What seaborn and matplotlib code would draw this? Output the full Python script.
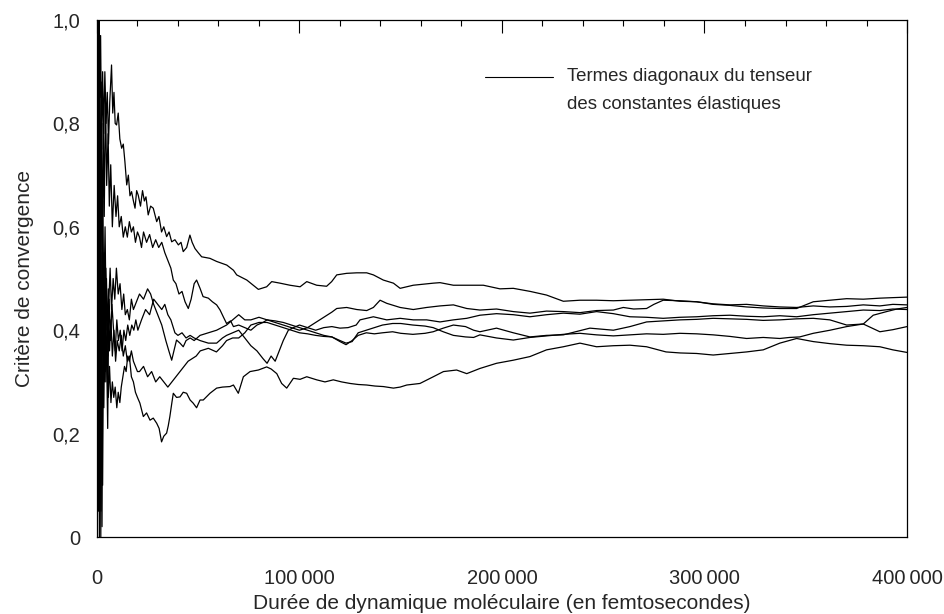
import numpy as np
import pandas as pd
import matplotlib
matplotlib.use("Agg")
import matplotlib.pyplot as plt
from matplotlib.ticker import FuncFormatter, MultipleLocator
import seaborn as sns

# Duree (milliers de fs) et critere de convergence, 6 termes diagonaux
t_a = [0.2, 0.6, 1.0, 1.4, 1.8, 2.3, 2.8, 3.3, 3.9, 4.5, 5.1, 5.7, 6.3, 7.2, 7.8, 8.4, 9.0, 9.7, 10.5, 11.3,
       12.2, 13.0, 13.8, 14.7, 15.5, 16.3, 17.1, 18.0, 18.8, 19.6, 20.4, 21.5, 22.5, 23.4, 24.2, 25.3, 26.5, 27.8,
       29.5, 30.6, 31.9, 33.0, 34.4, 35.6, 36.9, 38.5, 40.2, 41.5, 42.6, 44.3, 45.9, 47.0, 48.4, 50.0, 51.7, 55.8,
       59.1, 64.1, 67.4, 69.0, 74.0, 79.7, 83.8, 86.3, 90.4, 95.3, 100.3, 103.6, 108.5, 113.4, 115.9, 118.4, 123.3,
       128.3, 133.2, 136.5, 141.4, 146.4, 149.7, 156.2, 166.1, 169.4, 176.0, 182.6, 190.8, 199.0, 205.6, 214.0,
       222.0, 230.3, 238.5, 246.7, 255.0, 263.2, 271.4, 279.6, 287.9, 296.1, 304.3, 312.6, 320.8, 329.0, 337.2,
       345.5, 353.7, 361.9, 370.2, 378.4, 386.6, 393.0, 400.0]
crit_a = [1.0, 0.70, 1.0, 0.85, 0.97, 0.75, 0.90, 0.78, 0.90, 0.80, 0.86, 0.76, 0.84, 0.913, 0.82, 0.86, 0.80,
          0.797, 0.82, 0.77, 0.752, 0.76, 0.726, 0.681, 0.70, 0.66, 0.668, 0.65, 0.636, 0.67, 0.661, 0.64, 0.67,
          0.65, 0.658, 0.623, 0.64, 0.636, 0.61, 0.62, 0.59, 0.60, 0.581, 0.59, 0.571, 0.575, 0.565, 0.57, 0.552,
          0.56, 0.584, 0.57, 0.558, 0.55, 0.542, 0.539, 0.533, 0.526, 0.516, 0.507, 0.497, 0.479, 0.484, 0.494,
          0.491, 0.487, 0.484, 0.494, 0.487, 0.485, 0.494, 0.507, 0.510, 0.511, 0.511, 0.507, 0.497, 0.491, 0.481,
          0.487, 0.491, 0.492, 0.487, 0.487, 0.487, 0.480, 0.481, 0.475, 0.468, 0.456, 0.458, 0.458, 0.457, 0.458,
          0.459, 0.460, 0.456, 0.455, 0.450, 0.448, 0.445, 0.443, 0.442, 0.442, 0.455, 0.458, 0.461, 0.460, 0.462,
          0.463, 0.464]

t_b = [0.2, 0.5, 0.9, 1.3, 1.7, 2.1, 2.6, 3.1, 3.6, 4.2, 4.8, 5.5, 6.1, 6.8, 7.6, 8.5, 9.4, 10.2, 11.0, 12.0,
       13, 14, 15, 16, 17, 18, 19, 20, 21, 22, 23, 24.5, 26, 27.5, 29, 30.5, 32, 33.5, 35, 36.5,
       37.7, 39, 40.5, 42, 43.5, 45.1, 46.5, 48, 49.2, 50.9, 52.4, 55, 57, 59.1, 60.8, 62.5, 64, 66, 67.4, 70,
       73, 76, 79, 82, 84, 88, 92, 96, 100, 104, 108, 112, 116, 120, 123, 126, 129, 133, 137, 141,
       146, 150, 156, 162, 166, 171, 176, 182, 186, 189.1, 197.3, 205.6, 213.8, 222.0, 230.3, 243.4, 255.0,
       263.2, 271.4, 279.6, 287.9, 296.1, 304.3, 312.6, 320.8, 329.0, 337.2, 345.5, 353.7, 361.9, 370.2, 378.4,
       386.6, 393.0, 400.0]
crit_b = [0.0, 0.90, 0.20, 0.95, 0.40, 0.88, 0.50, 0.80, 0.62, 0.86, 0.68, 0.78, 0.64, 0.72, 0.60, 0.68, 0.62,
          0.66, 0.60, 0.62, 0.58, 0.60, 0.58, 0.61, 0.59, 0.60, 0.57, 0.59, 0.58, 0.56, 0.59, 0.57, 0.585, 0.56,
          0.575, 0.56, 0.57, 0.55, 0.535, 0.52, 0.497, 0.49, 0.47, 0.475, 0.455, 0.442, 0.46, 0.49, 0.497, 0.481,
          0.465, 0.462, 0.455, 0.449, 0.439, 0.425, 0.413, 0.418, 0.407, 0.41, 0.405, 0.40, 0.41, 0.415, 0.42,
          0.418, 0.415, 0.41, 0.405, 0.40, 0.395, 0.39, 0.387, 0.378, 0.372, 0.38, 0.39, 0.395, 0.393, 0.395,
          0.397, 0.394, 0.392, 0.394, 0.397, 0.404, 0.410, 0.407, 0.400, 0.397, 0.404, 0.395, 0.387, 0.390, 0.391,
          0.404, 0.400, 0.407, 0.416, 0.418, 0.420, 0.421, 0.423, 0.422, 0.421, 0.419, 0.420, 0.422, 0.423, 0.420,
          0.410, 0.412, 0.397, 0.401, 0.407]

t_c = [0.3, 0.7, 1.1, 1.5, 1.9, 2.4, 2.9, 3.4, 4.0, 4.6, 5.3, 5.8, 6.5, 7.2, 8.0, 8.8, 9.6, 10.5, 11.4, 12.3,
       13.2, 14.0, 15.0, 16.0, 17.0, 18.0, 19.0, 20.0, 21.0, 23.0, 25.0, 26.5, 28.0, 30.0, 32.0, 34.0, 35.5, 36.9,
       38.0, 39.3, 41.0, 42.6, 44.0, 46.0, 48.0, 50.9, 55.0, 59.1, 64.0, 67.0, 70, 73, 76, 80, 84, 88, 92, 96,
       100, 104, 108, 112, 116, 118.4, 123.3, 128.3, 133.2, 136.5, 139.8, 143.1, 149.7, 156.2, 162.8, 169.4,
       176.0, 182.6, 189.1, 197.3, 205.6, 213.8, 222.0, 230.3, 238.5, 246.7, 255.0, 259.9, 265.0, 271.4, 275.0,
       279.6, 287.9, 296.1, 304.3, 312.6, 320.8, 329.0, 337.2, 345.5, 353.7, 361.9, 370.2, 378.4, 386.6, 393.0,
       400.0]
crit_c = [0.5, 0.05, 0.6, 0.1, 0.55, 0.3, 0.65, 0.45, 0.6, 0.40, 0.21, 0.45, 0.52, 0.44, 0.50, 0.46, 0.52, 0.47,
          0.49, 0.44, 0.47, 0.43, 0.44, 0.42, 0.46, 0.44, 0.45, 0.46, 0.47, 0.46, 0.48, 0.47, 0.45, 0.43, 0.41,
          0.38, 0.36, 0.342, 0.36, 0.381, 0.375, 0.368, 0.38, 0.385, 0.38, 0.39, 0.395, 0.40, 0.41, 0.42, 0.43,
          0.42, 0.42, 0.425, 0.42, 0.415, 0.41, 0.405, 0.40, 0.405, 0.415, 0.425, 0.435, 0.442, 0.444, 0.440,
          0.438, 0.444, 0.458, 0.452, 0.444, 0.440, 0.444, 0.447, 0.449, 0.442, 0.439, 0.441, 0.436, 0.433, 0.437,
          0.436, 0.434, 0.438, 0.439, 0.444, 0.441, 0.442, 0.450, 0.458, 0.457, 0.455, 0.451, 0.449, 0.450, 0.447,
          0.445, 0.444, 0.447, 0.445, 0.446, 0.449, 0.447, 0.450, 0.449]

t_d = [0.3, 0.8, 1.2, 1.6, 2.0, 2.5, 3.0, 3.5, 4.1, 4.7, 5.4, 6.0, 6.7, 7.4, 8.2, 9.0, 9.8, 10.6, 11.5, 12.4,
       13.3, 14.2, 15.2, 16.2, 17.2, 18.2, 19.2, 20.2, 22.0, 24.0, 26.0, 28.0, 30.0, 32.0, 33.5, 35.0, 36.5, 38.5,
       40.0, 42.0, 44.0, 46.0, 48.0, 50.9, 55.0, 59.1, 62.0, 64.0, 67.0, 70.0, 73.0, 76.0, 79.0, 82.0, 84.0,
       86.0, 88.0, 90.0, 92.0, 94.5, 97.0, 100.0, 104.0, 108.0, 112.0, 116.0, 120.0, 124.0, 128.0, 129.9, 136.5,
       143.1, 149.7, 156.2, 162.8, 169.4, 176.0, 182.6, 189.1, 197.3, 205.6, 213.8, 222.0, 230.3, 238.5, 246.7,
       255.0, 263.2, 271.4, 279.6, 287.9, 296.1, 304.3, 312.6, 320.8, 329.0, 337.2, 345.5, 353.7, 361.9, 370.2,
       378.4, 386.6, 393.0, 400.0]
crit_d = [0.3, 0.8, 0.0, 0.7, 0.05, 0.6, 0.35, 0.55, 0.32, 0.5, 0.35, 0.46, 0.38, 0.45, 0.40, 0.36, 0.42, 0.38,
          0.40, 0.36, 0.40, 0.38, 0.41, 0.39, 0.41, 0.40, 0.42, 0.40, 0.42, 0.44, 0.43, 0.46, 0.45, 0.44, 0.45,
          0.43, 0.42, 0.395, 0.39, 0.395, 0.385, 0.39, 0.385, 0.38, 0.375, 0.375, 0.385, 0.39, 0.395, 0.40, 0.385,
          0.37, 0.36, 0.345, 0.336, 0.35, 0.34, 0.36, 0.38, 0.40, 0.405, 0.41, 0.405, 0.40, 0.405, 0.407, 0.404,
          0.405, 0.41, 0.420, 0.426, 0.420, 0.423, 0.420, 0.420, 0.416, 0.420, 0.423, 0.429, 0.432, 0.430, 0.426,
          0.430, 0.433, 0.431, 0.436, 0.432, 0.426, 0.425, 0.423, 0.425, 0.426, 0.428, 0.429, 0.427, 0.426, 0.428,
          0.426, 0.430, 0.433, 0.436, 0.439, 0.438, 0.441, 0.440]

t_e = [0.3, 0.7, 1.1, 1.5, 2.0, 2.5, 2.9, 3.4, 3.9, 4.4, 5.0, 5.6, 6.2, 6.9, 7.6, 8.3, 9.0, 9.8, 10.5, 11.3,
       12.0, 12.8, 13.6, 14.4, 15.2, 16.0, 17.0, 18.0, 19.0, 20.0, 21.0, 23.0, 25.0, 27.0, 29.0, 31.0, 33.0,
       35.0, 37.0, 39.0, 41.0, 43.0, 45.0, 47.0, 49.0, 51.0, 55.0, 59.0, 62.0, 64.0, 67.0, 70.0, 73.0, 76.0,
       80.0, 84.0, 88.0, 92.0, 96.0, 100.0, 104.0, 108.0, 112.0, 116.0, 120.0, 123.0, 126.0, 129.0, 133.0, 137.0,
       141.0, 146.0, 150.0, 156.0, 162.0, 166.0, 171.0, 176.0, 182.0, 186.0, 189.1, 197.3, 205.6, 213.8, 222.0,
       230.3, 238.5, 246.7, 255.0, 263.2, 271.4, 279.6, 287.9, 296.1, 304.3, 312.6, 320.8, 329.0, 337.2, 342.0,
       347.0, 353.7, 362.0, 370.2, 378.4, 383.3, 389.9, 395.0, 400.0]
crit_e = [0.7, 0.3, 0.85, 0.25, 0.5, 0.02, 0.4, 0.25, 0.45, 0.3, 0.38, 0.27, 0.33, 0.26, 0.30, 0.27, 0.29, 0.25,
          0.28, 0.26, 0.29, 0.31, 0.33, 0.32, 0.35, 0.34, 0.36, 0.34, 0.33, 0.32, 0.32, 0.33, 0.31, 0.32, 0.30,
          0.31, 0.30, 0.29, 0.30, 0.31, 0.32, 0.33, 0.34, 0.345, 0.35, 0.36, 0.365, 0.358, 0.37, 0.38, 0.385, 0.385,
          0.395, 0.41, 0.415, 0.415, 0.41, 0.405, 0.40, 0.395, 0.393, 0.39, 0.388, 0.387, 0.38, 0.375, 0.378,
          0.395, 0.40, 0.405, 0.41, 0.413, 0.413, 0.41, 0.408, 0.405, 0.397, 0.39, 0.387, 0.386, 0.391, 0.385,
          0.381, 0.386, 0.389, 0.392, 0.394, 0.391, 0.389, 0.391, 0.393, 0.392, 0.394, 0.393, 0.391, 0.388, 0.384,
          0.386, 0.384, 0.386, 0.387, 0.394, 0.400, 0.407, 0.412, 0.429, 0.436, 0.441, 0.444]

t_g = [0.3, 0.7, 1.1, 1.5, 1.9, 2.3, 2.8, 3.3, 3.8, 4.4, 5.0, 5.6, 6.2, 6.9, 7.6, 8.4, 9.2, 10.0, 11.0, 12.0,
       13.0, 14.0, 15.0, 16.0, 17.0, 18.0, 19.0, 20.0, 21.2, 22.9, 24.5, 26.2, 27.8, 29.5, 30.7, 31.9, 33.0,
       34.4, 35.2, 36.0, 37.0, 37.7, 39.3, 41.0, 42.6, 44.3, 46.0, 47.5, 49.2, 50.9, 52.5, 55.8, 59.1, 62.0,
       65.7, 67.4, 69.8, 72.3, 75.6, 79.7, 83.8, 86.0, 88.8, 91.2, 93.7, 97.0, 100.3, 103.6, 108.5, 112.6, 116.7,
       120.8, 125.0, 129.0, 133.2, 137.3, 141.4, 146.4, 149.7, 153.0, 159.5, 166.1, 171.1, 177.6, 182.6, 189.1,
       197.3, 205.6, 213.8, 222.0, 230.3, 238.5, 246.7, 255.0, 263.2, 271.4, 281.0, 288.0, 296.1, 304.3, 312.6,
       320.8, 329.0, 337.2, 345.5, 353.7, 362.0, 370.2, 378.4, 386.6, 393.0, 400.0]
crit_g = [0.2, 0.6, 0.05, 0.45, 0.0, 0.35, 0.1, 0.45, 0.3, 0.52, 0.40, 0.48, 0.36, 0.42, 0.35, 0.40, 0.34, 0.38,
          0.36, 0.39, 0.35, 0.37, 0.34, 0.35, 0.31, 0.30, 0.28, 0.27, 0.259, 0.233, 0.24, 0.226, 0.23, 0.220, 0.21,
          0.184, 0.195, 0.201, 0.215, 0.233, 0.26, 0.278, 0.27, 0.271, 0.28, 0.278, 0.265, 0.259, 0.250, 0.265,
          0.265, 0.278, 0.288, 0.29, 0.291, 0.294, 0.278, 0.310, 0.320, 0.323, 0.329, 0.325, 0.316, 0.297, 0.288,
          0.307, 0.305, 0.310, 0.304, 0.30, 0.304, 0.30, 0.297, 0.295, 0.294, 0.292, 0.291, 0.288, 0.29, 0.294,
          0.297, 0.310, 0.320, 0.323, 0.316, 0.326, 0.336, 0.342, 0.349, 0.362, 0.368, 0.375, 0.368, 0.37, 0.371,
          0.368, 0.358, 0.356, 0.355, 0.352, 0.355, 0.358, 0.362, 0.375, 0.384, 0.378, 0.374, 0.371, 0.370, 0.368,
          0.362, 0.357]

series = {"C11": (t_a, crit_a), "C22": (t_b, crit_b), "C33": (t_c, crit_c),
          "C44": (t_d, crit_d), "C55": (t_e, crit_e), "C66": (t_g, crit_g)}

frames = []
for name, (t, c) in series.items():
    frames.append(pd.DataFrame({"duree": np.array(t) * 1000, "critere": c, "terme": name}))
df = pd.concat(frames, ignore_index=True)

sns.set_style("white")
plt.rcParams["font.family"] = ["Liberation Sans", "DejaVu Sans"]

fig = plt.figure(figsize=(9.45, 6.14), dpi=100)
ax = fig.add_axes([0.1026, 0.1254, 0.8572, 0.842])

sns.lineplot(data=df, x="duree", y="critere", units="terme", estimator=None,
             sort=False, color="black", linewidth=0.9, ax=ax)

ax.set_xlim(0, 400000)
ax.set_ylim(0, 1.0)
ax.xaxis.set_major_locator(MultipleLocator(100000))
ax.xaxis.set_minor_locator(MultipleLocator(20000))
ax.yaxis.set_major_locator(MultipleLocator(0.2))
ax.xaxis.set_major_formatter(FuncFormatter(lambda v, p: "0" if v == 0 else f"{int(v):,}".replace(",", "\u2009")))
ax.yaxis.set_major_formatter(FuncFormatter(lambda v, p: "0" if abs(v) < 1e-9 else f"{v:.1f}".replace(".", ",")))

ax.tick_params(axis="x", which="major", direction="in", length=9, width=0.8, top=True, pad=23,
               labelsize=14.5, color="black")
ax.tick_params(axis="x", which="minor", direction="in", length=4.5, width=0.8, top=True, color="black")
ax.tick_params(axis="y", which="major", direction="in", length=4, width=0.8, pad=12, labelsize=14.5,
               color="black")
for s in ax.spines.values():
    s.set_color("black")
    s.set_linewidth(0.9)

ax.set_xlabel("Durée de dynamique moléculaire (en femtosecondes)", fontsize=15, labelpad=4)
ax.set_ylabel("Critère de convergence", fontsize=15, labelpad=13)

# legende
ax.plot([0.479, 0.563], [0.890, 0.890], transform=ax.transAxes, color="black", linewidth=0.8)
ax.text(0.580, 0.890, "Termes diagonaux du tenseur", transform=ax.transAxes, fontsize=13.4, va="center")
ax.text(0.580, 0.836, "des constantes élastiques", transform=ax.transAxes, fontsize=13.4, va="center")

fig.savefig("out.png", dpi=100)
